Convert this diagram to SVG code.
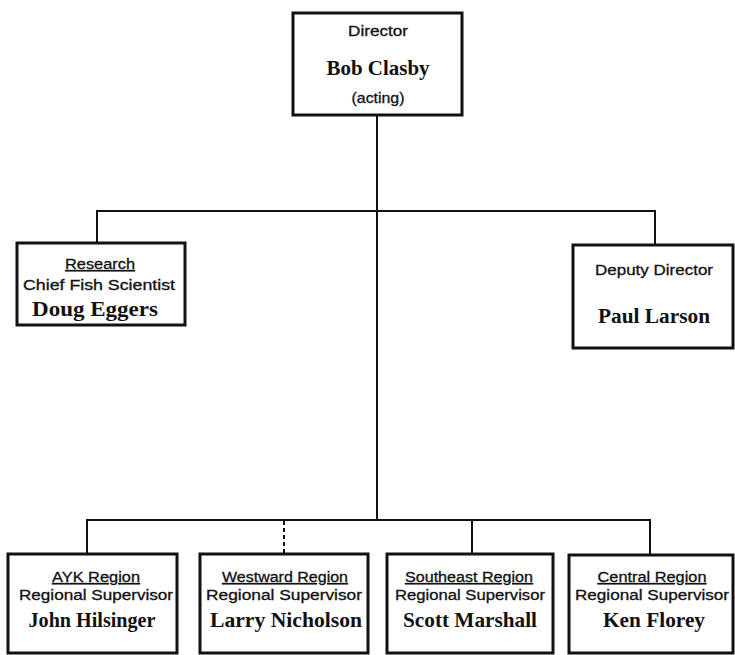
<svg xmlns="http://www.w3.org/2000/svg" width="735" height="655" viewBox="0 0 735 655">
<style>
.box{fill:#fff;stroke:#111;stroke-width:3}
.ln{fill:none;stroke:#111;stroke-width:2}
.s{font-family:"Liberation Sans",Arial,sans-serif;font-size:14px;fill:#111;stroke:#111;stroke-width:0.3;text-anchor:middle}
.u{text-decoration:underline}
.n{font-family:"Liberation Serif","Times New Roman",serif;font-weight:bold;font-size:21px;fill:#111;text-anchor:middle}
</style>
<rect width="735" height="655" fill="#fff"/>
<g id="connectors">
<path class="ln" d="M377 115 V519" stroke-width="2.5"/>
<path class="ln" d="M97 243 V211 H655 V245"/>
<path class="ln" d="M87 554 V520 H650 V555"/>
<path class="ln" d="M284 521 V554" stroke-width="1" stroke-dasharray="4,3"/>
<path class="ln" d="M472 521 V554" stroke-width="1.5"/>
</g>
<g id="director">
<rect class="box" x="293" y="13" width="169" height="102"/>
<text class="s" x="378" y="36" textLength="60" lengthAdjust="spacingAndGlyphs">Director</text>
<text class="n" x="378" y="75" textLength="103" lengthAdjust="spacingAndGlyphs">Bob Clasby</text>
<text class="s" x="378" y="103" textLength="53" lengthAdjust="spacingAndGlyphs">(acting)</text>
</g>
<g id="research">
<rect class="box" x="17" y="243" width="168" height="82"/>
<text class="s u" x="100" y="269" textLength="70" lengthAdjust="spacingAndGlyphs">Research</text>
<text class="s" x="99" y="290" textLength="152" lengthAdjust="spacingAndGlyphs">Chief Fish Scientist</text>
<text class="n" x="95" y="316" textLength="126" lengthAdjust="spacingAndGlyphs">Doug Eggers</text>
</g>
<g id="deputy">
<rect class="box" x="573" y="245" width="160" height="103"/>
<text class="s" x="654" y="275" textLength="118" lengthAdjust="spacingAndGlyphs">Deputy Director</text>
<text class="n" x="654" y="323" textLength="112" lengthAdjust="spacingAndGlyphs">Paul Larson</text>
</g>
<g id="ayk">
<rect class="box" x="8" y="554" width="169" height="99"/>
<text class="s u" x="96" y="582" textLength="88" lengthAdjust="spacingAndGlyphs">AYK Region</text>
<text class="s" x="96" y="600" textLength="154" lengthAdjust="spacingAndGlyphs">Regional Supervisor</text>
<text class="n" x="92" y="627" textLength="127" lengthAdjust="spacingAndGlyphs">John Hilsinger</text>
</g>
<g id="westward">
<rect class="box" x="200" y="554" width="168" height="99"/>
<text class="s u" x="285" y="582" textLength="126" lengthAdjust="spacingAndGlyphs">Westward Region</text>
<text class="s" x="284" y="600" textLength="156" lengthAdjust="spacingAndGlyphs">Regional Supervisor</text>
<text class="n" x="286" y="627" textLength="152" lengthAdjust="spacingAndGlyphs">Larry Nicholson</text>
</g>
<g id="southeast">
<rect class="box" x="387" y="554" width="166" height="99"/>
<text class="s u" x="469" y="582" textLength="128" lengthAdjust="spacingAndGlyphs">Southeast Region</text>
<text class="s" x="470" y="600" textLength="150" lengthAdjust="spacingAndGlyphs">Regional Supervisor</text>
<text class="n" x="470" y="627" textLength="134" lengthAdjust="spacingAndGlyphs">Scott Marshall</text>
</g>
<g id="central">
<rect class="box" x="569" y="555" width="164" height="98"/>
<text class="s u" x="652" y="582" textLength="109" lengthAdjust="spacingAndGlyphs">Central Region</text>
<text class="s" x="652" y="600" textLength="154" lengthAdjust="spacingAndGlyphs">Regional Supervisor</text>
<text class="n" x="654" y="627" textLength="102" lengthAdjust="spacingAndGlyphs">Ken Florey</text>
</g>
</svg>
